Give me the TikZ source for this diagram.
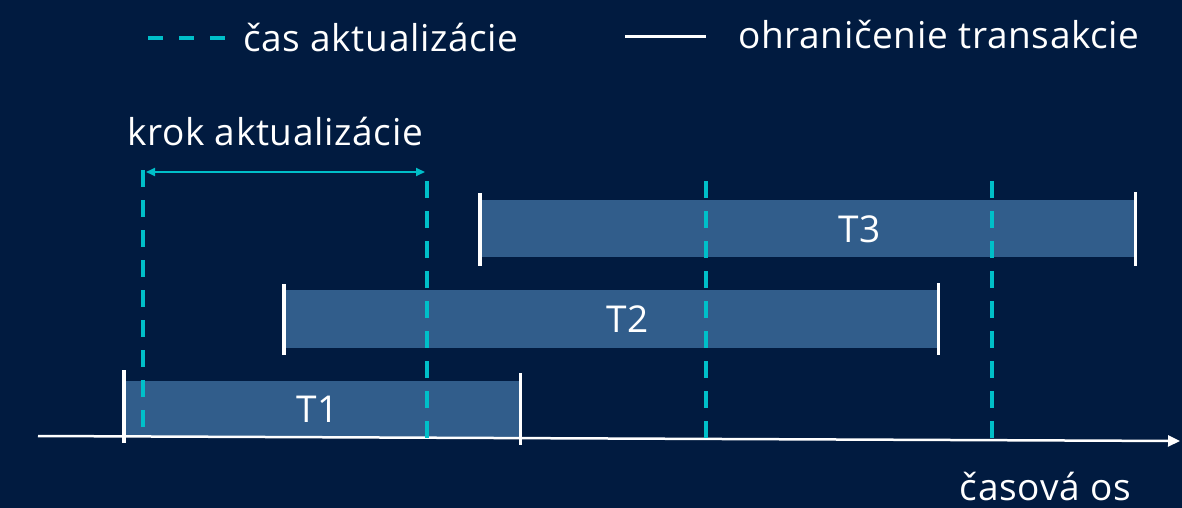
\documentclass[tikz,border=0pt]{standalone}
\usepackage{fontspec}
\setmainfont[LetterSpace=1.8]{Open Sans}
\usetikzlibrary{arrows.meta}
\definecolor{navy}{HTML}{011B40}
\definecolor{barblue}{HTML}{315D8B}
\definecolor{tealline}{HTML}{00BFC9}
\tikzset{
  txt/.style={text=white, font=\fontsize{37}{44}\selectfont, inner sep=0pt},
  bar/.style={fill=barblue, draw=none, inner sep=0pt},
  bound/.style={draw=white, line width=3.5pt},
  update/.style={draw=tealline, line width=3.5pt, dash pattern=on 17pt off 13pt},
}
\begin{document}
\begin{tikzpicture}[x=1pt,y=-1pt]
  \fill[navy] (0,0) rectangle (1182,508);
  \useasboundingbox (0,0) rectangle (1182,508);

  % legend
  \coordinate (la) at (148,38);
  \coordinate (lb) at (226,38);
  \draw[update, dash pattern=on 15pt off 16pt] (la) -- (lb);
  \node[txt, anchor=west] (ltxt1) at (243,38) {čas aktualizácie};
  \coordinate (lc) at (625,37);
  \coordinate (ld) at (706,37);
  \draw[bound, line width=3pt] (lc) -- (ld);
  \node[txt, anchor=west] (ltxt2) at (738,35) {ohraničenie transakcie};

  % transaction bars
  \node[bar, minimum width=396pt, minimum height=56pt, anchor=north west] (t1) at (124,381) {};
  \node[bar, minimum width=654pt, minimum height=58pt, anchor=north west] (t2) at (284,290) {};
  \node[bar, minimum width=655pt, minimum height=57pt, anchor=north west] (t3) at (480,200) {};
  \node[txt] (t1l) at (318,409) {T1};
  \node[txt] (t2l) at (628,319) {T2};
  \node[txt] (t3l) at (860,229) {T3};

  % time axis
  \coordinate (ax0) at (38,436);
  \coordinate (ax1) at (1180,441);
  \draw[white, line width=2.5pt, -{Triangle[length=12pt,width=11pt]}] (ax0) -- (ax1);
  \node[txt, anchor=east] (axl) at (1131,487) {časová os};

  % transaction boundaries (yshift is upward on the page)
  \draw[bound] ([yshift=11pt]t1.north west) -- ([yshift=-6pt]t1.south west);
  \draw[bound] ([yshift=8pt]t1.north east) -- ([yshift=-8pt]t1.south east);
  \draw[bound] ([yshift=6pt]t2.north west) -- ([yshift=-7pt]t2.south west);
  \draw[bound] ([yshift=7pt]t2.north east) -- ([yshift=-7pt]t2.south east);
  \draw[bound] ([yshift=7pt]t3.north west) -- ([yshift=-9pt]t3.south west);
  \draw[bound] ([yshift=8pt]t3.north east) -- ([yshift=-9pt]t3.south east);

  % update instants
  \coordinate (u1t) at (143,170); \coordinate (u1b) at (143,435);
  \coordinate (u2t) at (427,181); \coordinate (u2b) at (427,441);
  \coordinate (u3t) at (706,181); \coordinate (u3b) at (706,442);
  \coordinate (u4t) at (992,181); \coordinate (u4b) at (992,441);
  \draw[update] (u1t) -- (u1b);
  \draw[update] (u2t) -- (u2b);
  \draw[update] (u3t) -- (u3b);
  \draw[update] (u4t) -- (u4b);

  % update step
  \coordinate (s0) at (146,172);
  \coordinate (s1) at (425,172);
  \draw[tealline, line width=1.8pt, {Triangle[length=9pt,width=8pt]}-{Triangle[length=9pt,width=8pt]}] (s0) -- (s1);
  \node[txt] (step) at (275,132) {krok aktualizácie};
\end{tikzpicture}
\end{document}
